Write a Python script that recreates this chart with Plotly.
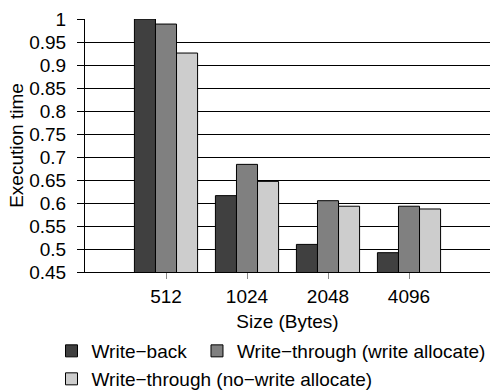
import plotly.graph_objects as go

categories = ["512", "1024", "2048", "4096"]
write_back = [1.0, 0.616, 0.510, 0.492]
wt_write_alloc = [0.989, 0.684, 0.605, 0.593]
wt_no_write_alloc = [0.926, 0.647, 0.593, 0.587]
series_names = ["Write−back", "Write−through (write allocate)", "Write−through (no−write allocate)"]
y_tick_vals = [0.45, 0.5, 0.55, 0.6, 0.65, 0.7, 0.75, 0.8, 0.85, 0.9, 0.95, 1.0]
y_tick_text = ["0.45", "0.5", "0.55", "0.6", "0.65", "0.7", "0.75", "0.8", "0.85", "0.9", "0.95", "1"]

colors = ["#404040", "#808080", "#cdcdcd"]
legends = ["legend", "legend2", "legend3"]
FONT = "Liberation Sans, Arial, Helvetica, sans-serif"

fig = go.Figure()
for name, vals, col, lg in zip(series_names, [write_back, wt_write_alloc, wt_no_write_alloc], colors, legends):
    fig.add_trace(go.Bar(
        x=categories, y=vals, name=name, legend=lg,
        marker=dict(color=col, line=dict(color="black", width=1)),
    ))

legend_common = dict(
    orientation="h", xanchor="left", yanchor="top",
    xref="container", yref="container",
    font=dict(size=19), traceorder="normal",
    bgcolor="rgba(0,0,0,0)",
)

fig.update_layout(
    width=492, height=391,
    margin=dict(l=85, r=2, t=19, b=119),
    paper_bgcolor="white", plot_bgcolor="white",
    font=dict(family=FONT, size=19, color="black"),
    barmode="group", bargap=0.22, bargroupgap=0,
    showlegend=True,
    legend=dict(x=0.1047, y=0.1509, **legend_common),
    legend2=dict(x=0.4004, y=0.1509, **legend_common),
    legend3=dict(x=0.1047, y=0.0793, **legend_common),
    xaxis=dict(
        type="category", range=[-1, 4],
        showline=True, linecolor="black", linewidth=1,
        ticks="outside", ticklen=6, tickcolor="#888888", tickwidth=1,
        ticklabelstandoff=1,
        showgrid=False, zeroline=False, automargin=False,
        title=dict(text="Size (Bytes)", font=dict(size=19), standoff=16),
        tickfont=dict(size=19),
    ),
    yaxis=dict(
        range=[0.45, 1.0],
        tickvals=y_tick_vals, ticktext=y_tick_text,
        showline=True, linecolor="black", linewidth=1,
        ticks="outside", ticklen=7, tickcolor="black", tickwidth=1,
        ticklabelstandoff=7,
        showgrid=True, gridcolor="black", gridwidth=1,
        zeroline=False, automargin=False,
        title=dict(text="Execution time", font=dict(size=19), standoff=0),
        tickfont=dict(size=19),
    ),
)

fig.write_html(
    "out.html",
    config={"displayModeBar": False},
    post_script="document.body.style.margin='0px'; document.body.style.overflow='hidden';",
)
